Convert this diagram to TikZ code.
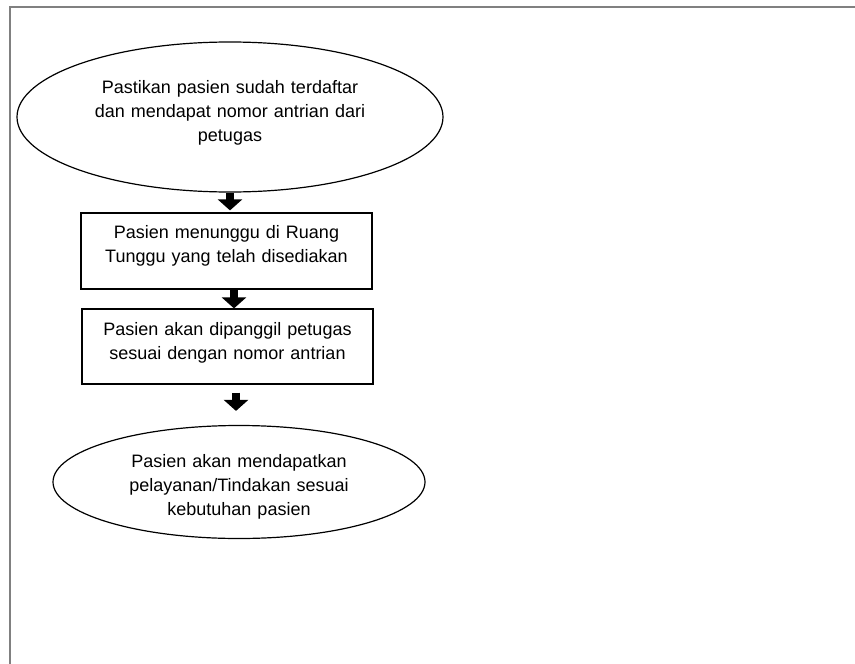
\documentclass[tikz,border=0pt]{standalone}
\usepackage{fontspec}
\setmainfont{Liberation Sans}
\usetikzlibrary{shapes.geometric, arrows.meta}
\definecolor{framegray}{RGB}{128,128,128}

\begin{document}
\begin{tikzpicture}[
              x = 1pt, y = -1pt,
           font = \fontsize{18}{24}\selectfont,
 ovalnode/.style = {draw, ellipse, line width=1.2pt, inner sep=0pt, align=center},
  stepbox/.style = {draw, rectangle, line width=1.2pt, inner xsep=10pt, inner ysep=4pt,
                    align=center, text width=271pt},
     flow/.style = {line width=8pt, -{Triangle[width=24pt,length=11pt]}}
                    ]
% page frame
\useasboundingbox (0,0) rectangle (855,664);
\draw[framegray, line width=1.5pt] (10,664) -- (10,7) -- (855,7);
% steps
\node[ovalnode, minimum width=426pt, minimum height=150pt, text width=280pt, text depth=60pt]
    (daftar) at (230,117) {Pastikan pasien sudah terdaftar\\dan mendapat nomor antrian dari\\petugas};
\node[stepbox, minimum height=76pt, text depth=39pt]
    (tunggu) at (226.5,251) {Pasien menunggu di Ruang\\Tunggu yang telah disediakan};
\node[stepbox, minimum height=75pt, text depth=36pt]
    (panggil) at (227.5,346.5) {Pasien akan dipanggil petugas\\sesuai dengan nomor antrian};
\node[ovalnode, minimum width=372pt, minimum height=113pt, text width=240pt, text height=22.7pt]
    (layan) at (239,482) {Pasien akan mendapatkan\\pelayanan/Tindakan sesuai\\kebutuhan pasien};
% arrows
\draw[flow, shorten >=2pt] (daftar.south) -- (daftar.south |- tunggu.north);
\draw[flow] ([xshift=7.5pt]tunggu.south) -- ([xshift=7.5pt]tunggu.south |- panggil.north);
\draw[flow, shorten <=8pt, shorten >=14pt] ([xshift=8.5pt]panggil.south) -- ([xshift=8.5pt]panggil.south |- layan.north);
\end{tikzpicture}
\end{document}
